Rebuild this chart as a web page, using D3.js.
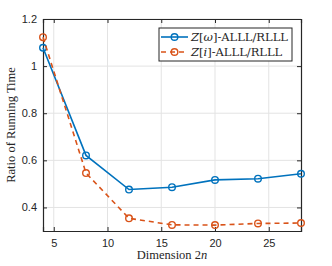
<!DOCTYPE html>
<html>
<head>
<meta charset="utf-8">
<script src="https://cdn.jsdelivr.net/npm/d3@7"></script>
<style>
body { margin: 0; background: #fff; }
svg text { fill: #262626; }
</style>
</head>
<body>
<script>
let dims = [4, 8, 12, 16, 20, 24, 28]
let omegaRatio = [1.078, 0.621, 0.476, 0.486, 0.517, 0.522, 0.543]
let iRatio = [1.123, 0.546, 0.354, 0.326, 0.325, 0.332, 0.334]
let xTicks = [5, 10, 15, 20, 25]
let yTicks = [0.4, 0.6, 0.8, 1, 1.2]

let width = 332, height = 266
let m = { left: 43, top: 19, right: 31, bottom: 35 }
let w = width - m.left - m.right, h = height - m.top - m.bottom

let svg = d3.select('body').append('svg')
	.attr('width', width)
	.attr('height', height)
let g = svg.append('g').attr('transform', `translate(${m.left},${m.top})`)

let x = d3.scaleLinear().domain([4, 28]).range([0, w])
let y = d3.scaleLinear().domain([0.3, 1.2]).range([h, 0])

// grid
g.append('g').selectAll('line').data(xTicks).join('line')
	.attr('x1', d => x(d)).attr('x2', d => x(d))
	.attr('y1', 0).attr('y2', h)
	.attr('stroke', '#e3e3e3').attr('stroke-width', 1)
g.append('g').selectAll('line').data(yTicks).join('line')
	.attr('x1', 0).attr('x2', w)
	.attr('y1', d => y(d)).attr('y2', d => y(d))
	.attr('stroke', '#e3e3e3').attr('stroke-width', 1)

// axes
let fmtY = d => d === 1 ? '1' : d3.format('.1f')(d)
let ax = g.append('g').attr('transform', `translate(0,${h})`)
	.call(d3.axisBottom(x).tickValues(xTicks).tickSize(-4).tickPadding(8))
let ay = g.append('g')
	.call(d3.axisLeft(y).tickValues(yTicks).tickSize(-4).tickPadding(6).tickFormat(fmtY))
let axTop = g.append('g')
	.call(d3.axisTop(x).tickValues(xTicks).tickSize(-4).tickFormat(''))
let ayRight = g.append('g').attr('transform', `translate(${w},0)`)
	.call(d3.axisRight(y).tickValues(yTicks).tickSize(-4).tickFormat(''))
;[ax, ay, axTop, ayRight].forEach(a => {
	a.selectAll('path').attr('stroke', '#262626').attr('stroke-width', 1.2)
	a.selectAll('line').attr('stroke', '#262626')
	a.selectAll('text').attr('font-family', 'Liberation Sans, Arial, sans-serif')
		.attr('font-size', 11).attr('fill', '#262626')
})

// series
let colors = ['#0072bd', '#d95319']
let sets = [omegaRatio, iRatio]
let line = d3.line().x((d, i) => x(dims[i])).y(d => y(d))
sets.forEach((s, k) => {
	g.append('path').datum(s)
		.attr('d', line)
		.attr('fill', 'none')
		.attr('stroke', colors[k])
		.attr('stroke-width', 1.6)
		.attr('stroke-dasharray', k ? '5,4' : null)
	g.append('g').selectAll('circle').data(s).join('circle')
		.attr('cx', (d, i) => x(dims[i])).attr('cy', d => y(d))
		.attr('r', 3.3)
		.attr('fill', 'none')
		.attr('stroke', colors[k])
		.attr('stroke-width', 1.4)
})

// legend
let lg = svg.append('g').attr('transform', 'translate(159,28)')
lg.append('rect').attr('width', 133).attr('height', 33)
	.attr('fill', '#fff').attr('stroke', '#262626').attr('stroke-width', 1)
sets.forEach((s, k) => {
	let yy = 9 + k * 15
	lg.append('line').attr('x1', 2).attr('x2', 29).attr('y1', yy).attr('y2', yy)
		.attr('stroke', colors[k]).attr('stroke-width', 1.6)
		.attr('stroke-dasharray', k ? '5,4' : null)
	lg.append('circle').attr('cx', 15.5).attr('cy', yy).attr('r', 3.3)
		.attr('fill', 'none').attr('stroke', colors[k]).attr('stroke-width', 1.4)
	let t = lg.append('text').attr('x', 32).attr('y', yy + 4)
		.attr('font-family', 'DejaVu Serif, Liberation Serif, serif')
		.attr('font-size', 11.5)
	t.append('tspan').attr('font-style', 'italic').text('Z')
	t.append('tspan').text('[')
	t.append('tspan').attr('font-style', 'italic').text(k ? 'i' : 'ω')
	t.append('tspan').text(']-ALLL/RLLL')
})

// axis labels
svg.append('text')
	.attr('x', m.left + w / 2).attr('y', 259)
	.attr('text-anchor', 'middle')
	.attr('font-family', 'Liberation Serif, DejaVu Serif, serif')
	.attr('font-size', 12.5)
	.html('Dimension 2<tspan font-style="italic">n</tspan>')
svg.append('text')
	.attr('transform', `translate(15,${m.top + h / 2}) rotate(-90)`)
	.attr('text-anchor', 'middle')
	.attr('font-family', 'Liberation Serif, DejaVu Serif, serif')
	.attr('font-size', 12.5)
	.text('Ratio of Running Time')
</script>
</body>
</html>
